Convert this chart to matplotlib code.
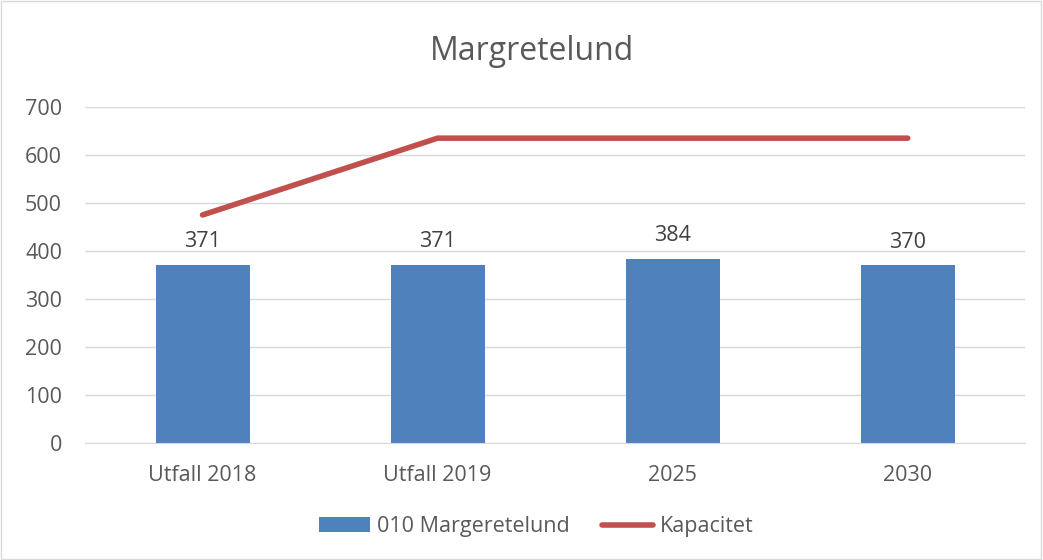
import matplotlib.pyplot as plt
from matplotlib.patches import Rectangle

plt.rcParams['font.family'] = ['Open Sans', 'DejaVu Sans']

categories = ['Utfall 2018', 'Utfall 2019', '2025', '2030']
elever = [371, 371, 384, 370]
kapacitet = [475, 635, 635, 635]

blue = '#4F81BD'
red = '#C0504D'
txt = '#595959'

fig = plt.figure(figsize=(10.43, 5.6), dpi=100)
fig.patches.append(Rectangle((0.001, 0.001), 0.997, 0.997, transform=fig.transFigure,
                             fill=False, edgecolor='#D9D9D9', linewidth=1))
ax = fig.add_axes([0.0815, 0.209, 0.9015, 0.6])

x = range(len(categories))
bars = ax.bar(x, elever, width=0.4, color=blue, label='010 Margeretelund', zorder=2)
line, = ax.plot(x, kapacitet, color=red, linewidth=4, solid_capstyle='round',
                label='Kapacitet', zorder=3)

for b, v in zip(bars, elever):
    ax.text(b.get_x() + b.get_width() / 2, v + 37, str(v), ha='center', va='baseline',
            fontsize=15.5, color='#404040')

ax.set_xlim(-0.5, 3.5)
ax.set_ylim(0, 700)
ax.set_yticks(range(0, 701, 100))
ax.set_xticks(list(x))
ax.set_xticklabels(categories)
ax.tick_params(axis='both', length=0, labelsize=15.5, labelcolor=txt)
ax.tick_params(axis='x', pad=16)
ax.tick_params(axis='y', pad=16.5)
ax.grid(axis='y', color='#D9D9D9', linewidth=1, zorder=0)
ax.set_axisbelow(True)
for s in ['top', 'right', 'left']:
    ax.spines[s].set_visible(False)
ax.spines['bottom'].set_color('#D9D9D9')

fig.text(0.51, 0.908, 'Margretelund', ha='center', va='center', fontsize=23, color=txt)

fig.legend([bars, line], ['010 Margeretelund', 'Kapacitet'], loc='center',
           bbox_to_anchor=(0.514, 0.059), ncol=2, frameon=False,
           fontsize=15.5, labelcolor=txt, handlelength=2.4, handleheight=0.7,
           handletextpad=0.3, columnspacing=1.5)

fig.savefig('out.png', dpi=100)
